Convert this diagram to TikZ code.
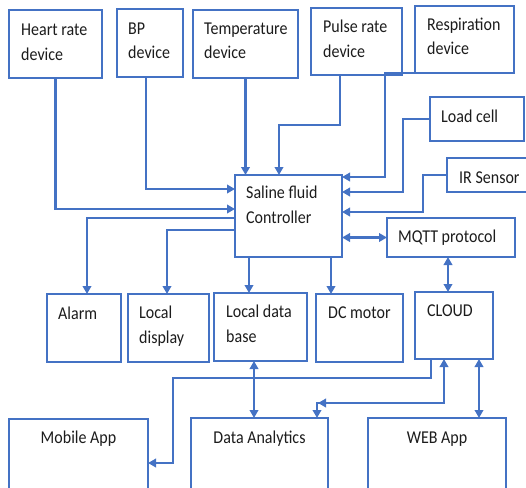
\documentclass[tikz,border=0pt]{standalone}
\usepackage{graphicx}
\usepackage{fontspec}
\setmainfont{Carlito}
\usetikzlibrary{arrows.meta,calc}
\definecolor{lineblue}{HTML}{4472C4}
\definecolor{ink}{HTML}{1C1C1C}
% tall lettering: lines stacked left-aligned, stretched vertically
\newcommand\talltext[1]{\scalebox{1}[1.13]{\begin{tabular}[b]{@{}l@{}}#1\end{tabular}}}
\begin{document}
\begin{tikzpicture}[x=1pt,y=-1pt,
  blk/.style={draw=lineblue, line width=1.6pt, fill=white, inner sep=0pt, outer sep=0pt, anchor=north west},
  lbl/.style={inner sep=0pt, anchor=base west, text=ink, font=\fontsize{16}{21.7}\selectfont},
  clbl/.style={lbl, anchor=base},
  wire/.style={draw=lineblue, line width=2.3pt},
  arr/.style={wire, -{Triangle[length=8pt,width=8.5pt]}},
  darr/.style={wire, {Triangle[length=8pt,width=8.5pt]}-{Triangle[length=8pt,width=8.5pt]}}]
\useasboundingbox (0,0) rectangle (526,487);

% sensing devices along the top
\node[blk, minimum width=93pt, minimum height=68pt] (hr) at (9,10) {};
\node[blk, minimum width=66pt, minimum height=68pt] (bp) at (117,9) {};
\node[blk, minimum width=105pt, minimum height=68pt] (temp) at (193,10) {};
\node[blk, minimum width=91pt, minimum height=67pt] (pulse) at (311,8) {};
\node[blk, minimum width=99pt, minimum height=67pt] (resp) at (415,6) {};
\node[blk, minimum width=94pt, minimum height=44pt] (load) at (430,97) {};
\node[blk, minimum width=83pt, minimum height=34pt] (ir) at (447,158) {};

% controller and network link
\node[blk, minimum width=107pt, minimum height=82pt] (ctrl) at (235,175) {};
\node[blk, minimum width=128pt, minimum height=39pt] (mqtt) at (387,218) {};

% outputs
\node[blk, minimum width=74pt, minimum height=68pt] (alarm) at (47,294) {};
\node[blk, minimum width=81pt, minimum height=68pt] (disp) at (128,294) {};
\node[blk, minimum width=93pt, minimum height=68pt] (ldb) at (214,293) {};
\node[blk, minimum width=87pt, minimum height=68pt] (dc) at (316,294) {};
\node[blk, minimum width=78pt, minimum height=67pt] (cloud) at (415,292) {};

% applications
\node[blk, minimum width=139pt, minimum height=74pt] (mobile) at (9,419) {};
\node[blk, minimum width=137pt, minimum height=74pt] (da) at (191,418) {};
\node[blk, minimum width=138pt, minimum height=74pt] (web) at (368,418) {};

% labels (base anchor sits on the last line)
\node[lbl] (hr-t) at (21,60) {\talltext{Heart rate\\device}};
\node[lbl] (bp-t) at (128,59) {\talltext{BP\\device}};
\node[lbl] (temp-t) at (204,59) {\talltext{Temperature\\device}};
\node[lbl] (pulse-t) at (323,57) {\talltext{Pulse rate\\device}};
\node[lbl] (resp-t) at (427,55) {\talltext{Respiration\\device}};
\node[lbl] (load-t) at (441,122) {\talltext{Load cell}};
\node[lbl] (ir-t) at (459,183) {\talltext{IR Sensor}};
\node[lbl] (ctrl-t) at (246,223) {\talltext{Saline fluid\\Controller}};
\node[lbl] (mqtt-t) at (398,242) {\talltext{MQTT protocol}};
\node[lbl] (alarm-t) at (58,319) {\talltext{Alarm}};
\node[lbl] (disp-t) at (139,343) {\talltext{Local\\display}};
\node[lbl] (ldb-t) at (226,342) {\talltext{Local data\\base}};
\node[lbl] (dc-t) at (328,318) {\talltext{DC motor}};
\node[lbl] (cloud-t) at (427,316) {\talltext{CLOUD}};
\node[clbl] (mobile-t) at (78.5,443) {\talltext{Mobile App}};
\node[clbl] (da-t) at (259.5,443) {\talltext{Data Analytics}};
\node[clbl] (web-t) at (437,443) {\talltext{WEB App}};

% inputs to the controller
\draw[arr] (hr.south) |- (ctrl.west |- 0,209);
\draw[arr] ($(bp.south)+(-4,0)$) |- (ctrl.west |- 0,189);
\draw[arr] (temp.south) -- (temp.south |- ctrl.north);
\draw[arr] (pulse.south -| 340,0) |- (279,125) -- (ctrl.north -| 279,0);
\draw[arr] (resp.south -| 430,0) -| (385,177) -- (ctrl.east |- 0,177);
\draw[arr] (load.west) -| (403,192) -- (ctrl.east |- 0,192);
\draw[arr] (ir.west) -| (423,212) -- (ctrl.east |- 0,212);

% controller to network
\draw[darr] (ctrl.east |- mqtt.west) -- (mqtt.west);
\draw[darr] (mqtt.south -| 448,0) -- (cloud.north -| 448,0);

% controller to outputs
\draw[arr] (ctrl.west |- 0,218) -| ($(alarm.north)+(3,0)$);
\draw[arr] (ctrl.west |- 0,230) -| ($(disp.north)+(-1.5,0)$);
\draw[arr] (ctrl.south -| 249,0) -- (ldb.north -| 249,0);
\draw[arr] (ctrl.south -| 331,0) -- (dc.north -| 331,0);

% data paths to applications
\draw[darr] (ldb.south -| 254,0) -- (da.north -| 254,0);
\draw[arr] (cloud.south -| 431,0) |- (173,378) |- (mobile.east |- 0,463);
\draw[darr] (cloud.south -| 444,0) |- (317,403) -- (da.north -| 317,0);
\draw[arr] (327,403) -- (318,403);
\draw[darr] (cloud.south -| 479,0) -- (web.north -| 479,0);
\end{tikzpicture}
\end{document}
